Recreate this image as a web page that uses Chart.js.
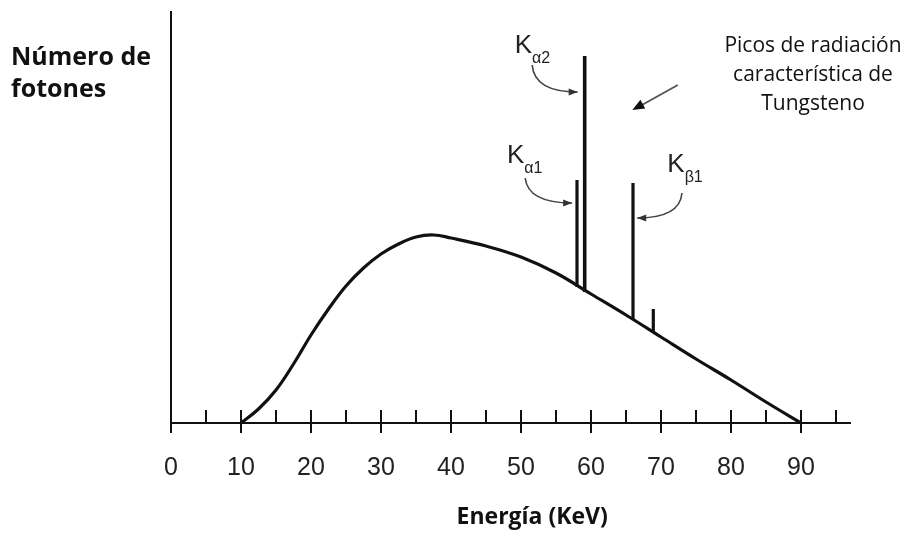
<!DOCTYPE html>
<html>
<head>
<meta charset="utf-8">
<script src="https://cdn.jsdelivr.net/npm/chart.js@4.4.1/dist/chart.umd.min.js"></script>
<style>
  html, body { margin: 0; padding: 0; background: #fff; }
  #wrap { width: 908px; height: 533px; position: relative; }
</style>
</head>
<body>
<div id="wrap"><canvas id="espectro"></canvas></div>
<script>
// espectro continuo (bremsstrahlung)
const energia = [10, 12.5, 15, 17.5, 20, 22.5, 25, 27.5, 30, 32.5, 35, 37.5, 40, 45, 50, 55, 60, 65, 70, 75, 80, 85, 90];
const fotones = [0, 14, 33, 59, 88, 114, 137, 155, 169, 179, 186, 188, 185, 177, 166, 150, 129, 108, 86, 64, 43, 21, 0];

// picos caracteristicos del tungsteno
const picosEnergia = [58.0, 59.1, 66.0, 68.9];
const picosBase = [136, 131, 104, 91];
const picosAltura = [243, 367, 240, 114];

const ticksEtiquetas = [0, 10, 20, 30, 40, 50, 60, 70, 80, 90];

// etiquetas de los picos: subindice y posicion en datos
const etiquetas = [
  { sub: 'α2', x: 49.1, y: 370 },
  { sub: 'α1', x: 48.0, y: 260 },
  { sub: 'β1', x: 70.9, y: 251 }
];
// flechas curvas: inicio, control, fin (en datos)
const flechas = [
  { x0: 51.6, y0: 358, cx: 51.9, cy: 331, x1: 58.1, y1: 331 },
  { x0: 50.6, y0: 245, cx: 51.0, cy: 220, x1: 57.3, y1: 220 },
  { x0: 73.0, y0: 230, cx: 72.7, cy: 205, x1: 66.6, y1: 205 }
];
const flechaRecta = { x0: 72.4, y0: 338, x1: 65.9, y1: 313 };

const negro = '#111';

const datasets = [{
  data: energia.map((e, i) => ({ x: e, y: fotones[i] })),
  borderColor: negro,
  borderWidth: 3.2,
  pointRadius: 0,
  tension: 0.4,
  fill: false
}];
picosEnergia.forEach((e, i) => {
  datasets.push({
    data: [{ x: e, y: picosBase[i] }, { x: e, y: picosAltura[i] }],
    borderColor: negro,
    borderWidth: i === 1 ? 3.6 : 3.2,
    borderCapStyle: 'butt',
    pointRadius: 0,
    fill: false
  });
});

function cabeza(ctx, x, y, ang, len, w) {
  ctx.beginPath();
  ctx.moveTo(x, y);
  ctx.lineTo(x - len * Math.cos(ang) + w * Math.sin(ang), y - len * Math.sin(ang) - w * Math.cos(ang));
  ctx.lineTo(x - len * Math.cos(ang) - w * Math.sin(ang), y - len * Math.sin(ang) + w * Math.cos(ang));
  ctx.closePath();
  ctx.fill();
}

const decoracion = {
  id: 'decoracion',
  afterDraw(chart) {
    const ctx = chart.ctx;
    const xs = chart.scales.x, ys = chart.scales.y;
    const base = chart.chartArea.bottom;
    ctx.save();

    // marcas del eje x
    ctx.strokeStyle = negro;
    ctx.lineWidth = 2;
    xs.ticks.forEach(t => {
      const px = Math.round(xs.getPixelForValue(t.value));
      const mayor = t.value % 10 === 0;
      ctx.beginPath();
      ctx.moveTo(px, base - 13);
      ctx.lineTo(px, mayor ? base + 10 : base);
      ctx.stroke();
    });

    // textos de los ejes
    ctx.fillStyle = '#111';
    ctx.textBaseline = 'alphabetic';
    ctx.font = 'bold 25px "Open Sans"';
    ctx.textAlign = 'left';
    ctx.fillText('Número de', 11, 65);
    ctx.fillText('fotones', 11, 97);

    ctx.font = 'bold 23px "Open Sans"';
    ctx.textAlign = 'center';
    ctx.fillText('Energía (KeV)', xs.getPixelForValue(51.6), 524);

    ctx.font = '21px "Open Sans"';
    ctx.fillText('Picos de radiación', 813, 52);
    ctx.fillText('característica de', 813, 81);
    ctx.fillText('Tungsteno', 813, 110);

    // etiquetas K
    ctx.fillStyle = '#222';
    ctx.textAlign = 'left';
    etiquetas.forEach(et => {
      const px = xs.getPixelForValue(et.x), py = ys.getPixelForValue(et.y);
      ctx.font = '26px "Liberation Sans"';
      ctx.fillText('K', px, py);
      const w = ctx.measureText('K').width;
      ctx.font = '16px "Liberation Sans"';
      ctx.fillText(et.sub, px + w, py + 10);
    });

    // flechas
    ctx.strokeStyle = '#444';
    ctx.fillStyle = '#333';
    ctx.lineWidth = 1.6;
    flechas.forEach(f => {
      const x0 = xs.getPixelForValue(f.x0), y0 = ys.getPixelForValue(f.y0);
      const cx = xs.getPixelForValue(f.cx), cy = ys.getPixelForValue(f.cy);
      const x1 = xs.getPixelForValue(f.x1), y1 = ys.getPixelForValue(f.y1);
      ctx.beginPath();
      ctx.moveTo(x0, y0);
      ctx.quadraticCurveTo(cx, cy, x1, y1);
      ctx.stroke();
      cabeza(ctx, x1, y1, Math.atan2(y1 - cy, x1 - cx), 9, 3.5);
    });
    const a0 = xs.getPixelForValue(flechaRecta.x0), b0 = ys.getPixelForValue(flechaRecta.y0);
    const a1 = xs.getPixelForValue(flechaRecta.x1), b1 = ys.getPixelForValue(flechaRecta.y1);
    ctx.lineWidth = 2;
    ctx.strokeStyle = '#555';
    ctx.beginPath();
    ctx.moveTo(a0, b0);
    ctx.lineTo(a1 + 6, b1 - 3);
    ctx.stroke();
    ctx.fillStyle = '#111';
    cabeza(ctx, a1, b1, Math.atan2(b1 - b0, a1 - a0), 12, 5);

    ctx.restore();
  }
};

new Chart(document.getElementById('espectro'), {
  type: 'line',
  data: { datasets: datasets },
  options: {
    responsive: true,
    maintainAspectRatio: false,
    animation: false,
    layout: { padding: { top: 12, right: 58, left: 0, bottom: 0 } },
    plugins: { legend: { display: false }, tooltip: { enabled: false } },
    scales: {
      x: {
        type: 'linear',
        min: 0,
        max: 97,
        grid: { display: false, drawTicks: false },
        border: { display: true, color: negro, width: 2 },
        ticks: {
          stepSize: 5,
          autoSkip: false,
          includeBounds: false,
          maxRotation: 0,
          padding: 30,
          color: '#222',
          font: { family: '"Liberation Sans"', size: 25 },
          callback: v => ticksEtiquetas.includes(v) ? String(v) : ''
        },
        afterFit: s => { s.height = 110; }
      },
      y: {
        min: 0,
        max: 411,
        grid: { display: false, drawTicks: false },
        border: { display: true, color: negro, width: 2 },
        ticks: { display: false },
        afterFit: s => { s.width = 171; }
      }
    }
  },
  plugins: [decoracion]
});
</script>
</body>
</html>
